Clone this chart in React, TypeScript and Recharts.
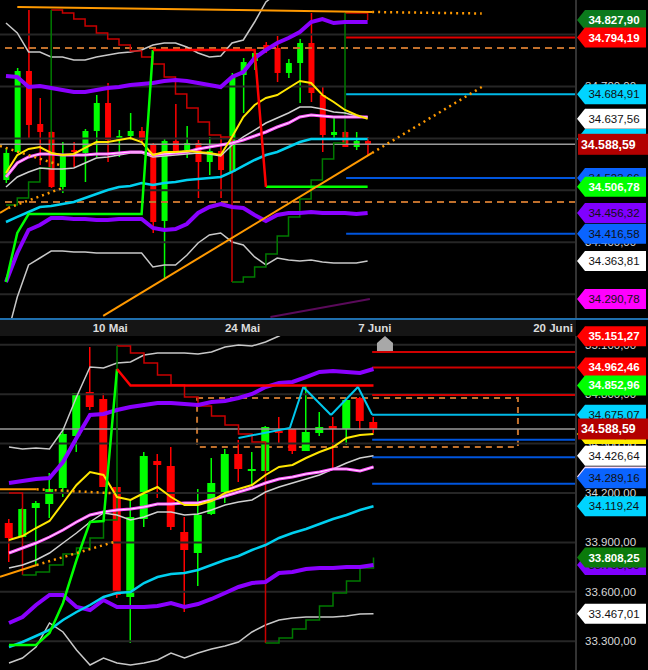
import React from 'react';
import {
  ComposedChart,
  Bar,
  Line,
  XAxis,
  YAxis,
  ReferenceLine,
  ReferenceArea,
  ReferenceDot,
} from 'recharts';

// ---------- upper panel (intraday) ----------
const topOpen = [34519.9, 34573.8, 34729.7, 34627.7, 34612.3, 34506.4, 34577.6, 34571.9, 34614.2, 34668.1, 34596.9, 34604.6, 34614.2, 34589.2, 34441.0, 34595.0, 34577.6, 34591.1, 34554.5, 34575.7, 34535.3, 34722.0, 34749.0, 34779.8, 34774.0, 34725.9, 34745.1, 34783.6, 34683.5, 34606.5, 34612.3, 34583.4, 34595.0];
const topHigh = [34581.5, 34735.5, 34847.2, 34677.7, 34614.0, 34593.0, 34593.0, 34618.1, 34683.5, 34706.6, 34616.1, 34648.9, 34621.9, 34591.1, 34600.7, 34666.2, 34623.8, 34596.9, 34602.7, 34602.7, 34725.9, 34754.7, 34766.0, 34785.5, 34797.1, 34752.8, 34791.3, 34841.4, 34700.8, 34639.2, 34614.0, 34612.3, 34602.7];
const topLow = [34514.1, 34571.9, 34600.7, 34548.8, 34504.5, 34494.9, 34544.9, 34516.0, 34564.2, 34554.5, 34564.2, 34596.9, 34591.1, 34417.9, 34331.2, 34571.9, 34562.2, 34485.2, 34529.5, 34485.2, 34535.3, 34648.9, 34731.7, 34764.4, 34708.5, 34716.2, 34668.1, 34670.0, 34573.8, 34596.9, 34583.4, 34577.6, 34568.0];
const topClose = [34571.9, 34729.7, 34625.8, 34612.3, 34506.4, 34568.0, 34573.8, 34614.2, 34668.1, 34596.9, 34604.6, 34614.2, 34596.9, 34439.0, 34595.0, 34573.8, 34591.1, 34554.5, 34575.7, 34539.1, 34718.2, 34747.0, 34764.4, 34770.1, 34725.9, 34745.1, 34783.6, 34687.4, 34606.5, 34612.3, 34583.4, 34595.0, 34588.59];

const topYellow = [34533.4, 34568.0, 34579.6, 34583.4, 34571.9, 34568.0, 34570.0, 34581.5, 34593.0, 34593.0, 34596.9, 34600.7, 34593.0, 34568.0, 34573.8, 34573.8, 34575.7, 34573.8, 34571.9, 34568.0, 34602.7, 34641.2, 34664.3, 34677.7, 34683.5, 34697.0, 34710.5, 34706.6, 34683.5, 34670.0, 34654.7, 34645.0, 34637.56];
const topPink = [34525.7, 34552.6, 34564.2, 34570.0, 34570.0, 34568.0, 34568.0, 34568.0, 34570.0, 34570.0, 34571.9, 34573.8, 34573.8, 34568.0, 34570.0, 34571.9, 34573.8, 34579.6, 34583.4, 34587.3, 34591.1, 34596.9, 34604.6, 34612.3, 34621.9, 34629.6, 34641.2, 34645.0, 34643.1, 34641.2, 34641.2, 34641.2, 34641.2];
const topMid = [34506.4, 34525.7, 34535.3, 34543.0, 34541.1, 34541.1, 34543.0, 34552.6, 34562.2, 34564.2, 34568.0, 34571.9, 34571.9, 34564.2, 34566.1, 34568.0, 34570.0, 34571.9, 34570.0, 34566.1, 34587.3, 34602.7, 34616.1, 34629.6, 34639.2, 34648.9, 34660.4, 34660.4, 34656.6, 34650.8, 34648.9, 34643.1, 34641.2];
const topCyan = [34439.0, 34448.7, 34458.3, 34467.9, 34469.9, 34473.7, 34477.6, 34485.2, 34492.9, 34500.7, 34506.4, 34508.4, 34514.1, 34510.3, 34514.1, 34516.0, 34519.9, 34521.8, 34523.7, 34525.7, 34535.3, 34546.9, 34558.4, 34568.0, 34573.8, 34583.4, 34593.0, 34598.8, 34598.8, 34598.8, 34598.8, 34598.8, 34598.8];
const topPurpleUp = [34720.1, 34718.2, 34698.9, 34700.8, 34697.0, 34693.1, 34689.3, 34689.3, 34693.1, 34697.0, 34698.9, 34702.8, 34704.7, 34706.6, 34710.5, 34712.4, 34710.5, 34706.6, 34702.8, 34698.9, 34718.2, 34727.8, 34754.7, 34770.1, 34783.6, 34793.3, 34804.8, 34824.0, 34829.8, 34822.1, 34824.0, 34824.0, 34824.0];
const topPurpleLow = [34323.6, 34379.4, 34423.7, 34433.3, 34446.8, 34446.8, 34444.8, 34444.8, 34442.9, 34442.9, 34444.8, 34444.8, 34444.8, 34427.5, 34423.7, 34425.6, 34435.2, 34456.4, 34467.9, 34473.7, 34467.9, 34466.0, 34452.5, 34441.0, 34452.5, 34456.4, 34456.4, 34458.3, 34456.4, 34456.4, 34456.4, 34454.4, 34456.32];
const topWhiteUp = [34822.1, 34802.9, 34766.3, 34766.3, 34756.7, 34756.7, 34750.9, 34750.9, 34756.7, 34760.5, 34764.4, 34766.3, 34770.1, 34779.8, 34783.6, 34783.6, 34775.9, 34764.4, 34756.7, 34758.6, 34783.6, 34789.4, 34824.0, 34862.6, 34879.9, 34891.4, 34904.9, 34904.9, 34899.1, 34895.3, 34895.3, 34895.3, 34895.3];
const topWhiteLow = [34211.9, 34294.7, 34356.3, 34369.7, 34383.2, 34383.2, 34381.3, 34381.3, 34379.4, 34379.4, 34379.4, 34379.4, 34379.4, 34352.4, 34356.3, 34356.3, 34375.0, 34398.6, 34414.0, 34417.9, 34400.6, 34394.8, 34371.7, 34356.3, 34369.7, 34365.9, 34364.0, 34365.9, 34362.1, 34360.1, 34360.1, 34360.1, 34363.81];
const topTrendUp = [34323.6, 34417.9, 34454.4, 34454.4, 34454.4, 34454.4, 34454.4, 34454.4, 34454.4, 34454.4, 34454.4, 34454.4, 34454.4, 34770.1, null, null, null, null, null, null, null, null, null, 34506.78, 34506.78, 34506.78, 34506.78, 34506.78, 34506.78, 34506.78, 34506.78, 34506.78, 34506.78];
const topTrendDown = [null, null, null, null, null, null, null, null, null, null, null, null, null, 34770.1, 34770.1, 34770.1, 34770.1, 34770.1, 34770.1, 34770.1, 34770.1, 34770.1, 34770.1, 34506.78, null, null, null, null, null, null, null, null, null];
const topStopRed = [null, null, null, null, 34847.2, 34841.4, 34829.8, 34816.4, 34802.9, 34791.3, 34779.8, 34768.2, 34756.7, 34743.2, 34718.2, 34685.4, 34658.5, 34631.5, 34606.5, 34602.7, 34323.6, null, null, null, null, null, null, null, null, null, 34841.4, 34841.4, 34827.9];
const topStopGreen = [34471.8, 34485.2, 34516.0, 34543.0, 34847.2, null, null, null, null, null, null, null, null, null, null, null, null, null, null, null, 34323.6, 34333.2, 34352.4, 34377.4, 34412.1, 34448.7, 34483.3, 34519.9, 34560.3, 34591.1, 34841.4, null, null];

const topGrid = [34300, 34400, 34500, 34600, 34700, 34800];
const topTags = [34827.9, 34794.19, 34684.91, 34637.56, 34598.83, 34523.66, 34506.78, 34456.32, 34416.58, 34363.81, 34290.78];
const topTagFill = ['#0b7a1c', '#ff0000', '#00d4ff', '#ffffff', '#00d4ff', '#0a64ff', '#00ff00', '#8000ff', '#0a64ff', '#ffffff', '#ff00ff'];
const topTagInk = ['#fff', '#fff', '#111', '#111', '#111', '#111', '#fff', '#111', '#111', '#111', '#111'];
const lastPrice = 34588.59;

// trend lines [x1, y1, x2, y2]
const topSolidTrends = [
  [1, 34852.9, 32.4, 34843.3],
  [8.6, 34258.1, 32.4, 34571.9],
  [-0.53, 34456.4, 0.2, 34466.0],
];
const topDottedTrends = [
  [32.4, 34843.3, 42.1, 34840.4],
  [32.4, 34571.9, 42.1, 34698.9],
  [-0.53, 34585.3, 5.0, 34546.9],
  [0.2, 34466.0, 5.0, 34504.5],
];
const topDashedLevels = [34774.0, 34477.6];
const topLevels = [34794.19, 34684.91, 34523.66, 34416.58];
const topLevelColors = ['#e00000', '#00b8e6', '#0055dd', '#0055dd'];
const topLevelStart = 30.1;
const topFaintLine = [23.4, 34256.2, 32.2, 34290.78];

// ---------- lower panel (daily) ----------
const botOpen = [34017.9, 33933.1, 34109.0, 34133.2, 34230.4, 34546.0, 34813.1, 34770.6, 34236.4, 33568.7, 34042.2, 34394.2, 34363.9, 33963.3, 33835.8, 34072.5, 34193.9, 34436.7, 34333.5, 34333.5, 34576.3, 34588.5, 34454.9, 34564.2, 34606.7, 34588.5, 34776.7, 34631.0];
const botHigh = [34042.2, 34109.0, 34151.4, 34321.4, 34594.6, 34807.0, 35086.2, 34807.0, 34236.4, 34157.5, 34448.9, 34436.7, 34479.2, 34054.3, 34224.3, 34412.5, 34467.1, 34521.7, 34448.9, 34606.7, 34661.3, 34588.5, 34849.5, 34691.7, 34661.3, 34776.7, 34782.7, 34661.3];
const botLow = [33781.2, 33927.0, 33763.0, 34048.3, 34175.7, 34448.9, 34703.8, 34236.4, 33562.7, 33289.5, 33993.6, 34169.7, 33975.4, 33477.7, 33635.5, 34066.5, 34139.3, 34266.8, 34254.6, 34333.5, 34503.5, 34436.7, 34454.9, 34546.0, 34351.8, 34491.4, 34582.4, 34564.2];
const botClose = [33926.9, 34102.9, 34139.3, 34224.3, 34558.1, 34807.0, 34722.0, 34236.4, 33580.9, 34054.3, 34424.6, 34370.0, 33993.6, 33854.0, 34066.5, 34260.7, 34436.7, 34345.7, 34345.7, 34600.6, 34564.2, 34454.9, 34570.3, 34600.6, 34588.5, 34764.5, 34637.0, 34588.59];

const botYellow = [33914.7, 33939.0, 33987.5, 34030.0, 34139.3, 34248.6, 34327.5, 34309.3, 34175.7, 34157.5, 34200.0, 34236.4, 34175.7, 34127.2, 34127.2, 34151.4, 34200.0, 34224.3, 34248.6, 34309.3, 34357.8, 34370.0, 34412.5, 34448.9, 34479.2, 34533.9, 34552.1, 34558.1];
const botPink = [33835.8, 33866.1, 33896.5, 33932.9, 33975.4, 34024.0, 34066.5, 34084.7, 34096.8, 34102.9, 34115.0, 34133.2, 34133.2, 34139.3, 34139.3, 34157.5, 34181.8, 34206.1, 34230.4, 34260.7, 34285.0, 34297.1, 34315.3, 34327.5, 34345.7, 34345.7, 34333.5, 34357.8];
const botMid = [33744.7, 33763.0, 33793.3, 33835.8, 33896.5, 33957.2, 34024.0, 34078.6, 34066.5, 34036.1, 34054.3, 34084.7, 34084.7, 34066.5, 34072.5, 34096.8, 34127.2, 34145.4, 34157.5, 34206.1, 34236.4, 34260.7, 34285.0, 34309.3, 34345.7, 34382.1, 34412.5, 34426.64];
const botCyan = [33265.2, 33295.6, 33332.0, 33368.4, 33429.1, 33477.7, 33520.2, 33568.7, 33593.0, 33599.1, 33653.7, 33690.1, 33708.3, 33714.4, 33732.6, 33763.0, 33793.3, 33817.6, 33854.0, 33884.4, 33926.8, 33957.2, 33981.5, 34011.8, 34042.2, 34066.5, 34096.8, 34119.24];
const botPurpleUp = [34260.7, 34272.8, 34285.0, 34291.1, 34388.2, 34533.9, 34673.5, 34679.5, 34703.8, 34722.0, 34734.2, 34746.3, 34746.3, 34740.2, 34734.2, 34752.4, 34758.4, 34776.7, 34800.9, 34843.4, 34867.7, 34873.8, 34904.1, 34934.5, 34940.5, 34934.5, 34928.4, 34952.7];
const botPurpleLow = [33410.9, 33447.3, 33520.2, 33580.9, 33580.9, 33508.0, 33489.8, 33550.5, 33508.0, 33508.0, 33508.0, 33514.1, 33532.3, 33508.0, 33526.2, 33556.6, 33593.0, 33629.4, 33653.7, 33659.8, 33714.4, 33720.5, 33738.7, 33744.7, 33744.7, 33750.8, 33750.8, 33763.0];
const botWhiteUp = [34479.2, 34467.1, 34473.2, 34467.1, 34582.4, 34782.7, 34964.8, 34958.8, 34989.1, 34995.2, 35037.7, 35049.8, 35049.8, 35049.8, 35043.7, 35055.9, 35086.2, 35098.4, 35092.3, 35116.6, 35153.0, 35201.6, 35238.0, 35250.1, 35250.1, 35238.0, 35225.8, 35238.0];
const botWhiteLow = [33168.1, 33198.4, 33265.2, 33410.9, 33356.3, 33247.0, 33156.0, 33198.4, 33168.1, 33156.0, 33168.1, 33186.3, 33228.8, 33198.4, 33228.8, 33253.1, 33271.3, 33295.6, 33356.3, 33398.8, 33429.1, 33441.2, 33447.3, 33447.3, 33447.3, 33453.4, 33465.5, 33467.01];
const botTrendUp = [33277.4, 33277.4, 33277.4, 33350.2, 33532.3, 33793.3, 34024.0, 34030.0, 34952.7, null, null, null, null, null, null, null, null, null, null, null, null, null, null, null, null, null, null, null];
const botTrendDown = [null, null, null, null, null, null, null, null, 34952.7, 34852.96, 34852.96, 34852.96, 34852.96, 34852.96, 34852.96, 34852.96, 34852.96, 34852.96, 34852.96, 34852.96, 34852.96, 34852.96, 34852.96, 34852.96, 34852.96, 34852.96, 34852.96, 34852.96];
const botStopRed = [34200.0, 33702.3, null, null, null, null, null, null, 35092.3, 35049.8, 34989.1, 34916.3, 34855.6, 34782.7, 34728.1, 34667.4, 34612.8, 34558.1, 34509.6, 33289.5, null, null, null, null, null, null, null, null];
const botStopGreen = [null, 33702.3, 33720.5, 33763.0, 33829.7, 33866.1, 33926.8, 34036.1, 35092.3, null, null, null, null, null, null, null, null, null, null, 33289.5, 33319.8, 33374.5, 33429.1, 33514.1, 33593.0, 33665.8, 33744.7, 33808.25];

const botGrid = [33300, 33600, 33900, 34200, 34500, 34800, 35100];
const botTags = [35151.27, 34962.46, 34852.96, 34675.07, 34558.1, 34426.64, 34300.33, 34289.16, 34119.24, 33763.0, 33808.25, 33467.01];
const botTagFill = ['#ff0000', '#ff0000', '#00ff00', '#00d4ff', '#ffee00', '#ffffff', '#ffe0ff', '#0a64ff', '#00d4ff', '#8000ff', '#0b7a0b', '#ffffff'];
const botTagInk = ['#fff', '#fff', '#fff', '#111', '#111', '#111', '#111', '#111', '#111', '#111', '#fff', '#111'];

const dateTicks = [7.5, 17.3, 27.1, 40.3];
const dateLabels = ['10 Mai', '24 Mai', '7 Juni', '20 Juni'];

const botSolidTrends = [
  [-0.667, 34222.5, 2.05, 34222.5],
  [-0.667, 33692.0, 2.05, 33763.0],
];
const botDottedTrends = [
  [2.05, 34222.5, 7.85, 34198.2],
  [2.05, 33763.0, 7.85, 33904.4],
];
const botBox = [13.93, 37.7, 34479.2, 34776.7];
const zigX = [17, 20.8, 21.8, 23.85, 25.85, 26.9];
const zigY = [34533.9, 34594.6, 34843.4, 34673.5, 34843.4, 34675.07];
const botLevels = [35055.9, 34962.46, 34794.19, 34675.07, 34523.66, 34416.58, 34256.0];
const botLevelColors = ['#d00000', '#d00000', '#d00000', '#00b8e6', '#0055dd', '#0055dd', '#0055dd'];
const botLevelStart = 26.9;
const botMarker = [27.85, 35104];

const TOP_X: [number, number] = [-0.53, 50.44];
const TOP_Y: [number, number] = [34254.2, 34866.4];
const BOT_X: [number, number] = [-0.667, 42.0];
const BOT_Y: [number, number] = [33125.6, 35153];

const FONT = '"Liberation Sans", Arial, sans-serif';
const ORANGE = '#ff9900';
const BROWN = '#c0702c';

const fmt = (v: number) => {
  const [a, b] = v.toFixed(2).split('.');
  return a.replace(/\B(?=(\d{3})+(?!\d))/g, '.') + ',' + b;
};

function buildRows(open: number[], high: number[], low: number[], close: number[], series: Record<string, (number | null)[]>) {
  return open.map((o, i) => {
    const row: any = { i, open: o, high: high[i], low: low[i], close: close[i], range: [low[i], high[i]] };
    Object.keys(series).forEach((k) => {
      row[k] = series[k][i];
    });
    return row;
  });
}

const topRows = buildRows(topOpen, topHigh, topLow, topClose, {
  yellow: topYellow, pink: topPink, mid: topMid, cyan: topCyan,
  pUp: topPurpleUp, pLow: topPurpleLow, wUp: topWhiteUp, wLow: topWhiteLow,
  stUp: topTrendUp, stDown: topTrendDown, stopRed: topStopRed, stopGreen: topStopGreen,
});
const botRows = buildRows(botOpen, botHigh, botLow, botClose, {
  yellow: botYellow, pink: botPink, mid: botMid, cyan: botCyan,
  pUp: botPurpleUp, pLow: botPurpleLow, wUp: botWhiteUp, wLow: botWhiteLow,
  stUp: botTrendUp, stDown: botTrendDown, stopRed: botStopRed, stopGreen: botStopGreen,
});

const candleShape = (bodyW: number) => (props: any) => {
  const { x, y, width, height, payload } = props;
  const { open, close, high, low } = payload;
  const top = Math.min(y, y + height);
  const h = Math.abs(height);
  const cx = x + width / 2;
  const span = high - low || 1;
  const toY = (v: number) => top + ((high - v) / span) * h;
  const color = close >= open ? '#00ff00' : '#ff0000';
  const b1 = toY(Math.max(open, close));
  const b2 = toY(Math.min(open, close));
  return (
    <g>
      <line x1={cx} x2={cx} y1={top} y2={top + h} stroke={color} strokeWidth={1.5} />
      <rect x={cx - bodyW / 2} y={b1} width={bodyW} height={Math.max(b2 - b1, 2)} fill={color} />
    </g>
  );
};

const priceTick = (tags: number[], fills: string[], inks: string[]) => (props: any) => {
  const { y, payload } = props;
  const v = payload.value;
  if (v === lastPrice) {
    return (
      <g>
        <rect x={578} y={y - 10.5} width={70} height={21} fill="#b30000" />
        <text x={581} y={y + 4.5} fill="#fff" fontSize={12.3} fontWeight="bold" fontFamily={FONT}>{fmt(v)}</text>
      </g>
    );
  }
  const k = tags.indexOf(v);
  if (k < 0) {
    return (
      <text x={585} y={y + 4} fill="#d8d8d8" fontSize={11.5} fontFamily={FONT}>{fmt(v)}</text>
    );
  }
  const ink = inks[k];
  return (
    <g>
      <polygon points={`577,${y} 585,${y - 10} 646,${y - 10} 646,${y + 10} 585,${y + 10}`} fill={fills[k]} />
      <text x={614} y={y + 4} textAnchor="middle" fill={ink} fontSize={11.5} fontWeight={ink === '#fff' ? 'bold' : 'normal'} fontFamily={FONT}>{fmt(v)}</text>
    </g>
  );
};

const dateTick = (props: any) => {
  const { x, index } = props;
  return (
    <text x={x} y={12} textAnchor="middle" fill="#dcdcdc" fontSize={11.5} fontWeight="bold" fontFamily={FONT}>{dateLabels[index]}</text>
  );
};

const houseShape = (props: any) => {
  const { cx, cy } = props;
  return <polygon points={`${cx - 8},${cy + 7} ${cx - 8},${cy - 1} ${cx},${cy - 8} ${cx + 8},${cy - 1} ${cx + 8},${cy + 7}`} fill="#a8a8a8" />;
};

function indicatorLines() {
  return [
    <Line key="wUp" dataKey="wUp" stroke="#c8c8c8" strokeWidth={1.5} dot={false} activeDot={false} isAnimationActive={false} />,
    <Line key="wLow" dataKey="wLow" stroke="#c8c8c8" strokeWidth={1.5} dot={false} activeDot={false} isAnimationActive={false} />,
    <Line key="stopRed" type="stepAfter" dataKey="stopRed" stroke="#c80000" strokeWidth={1.5} dot={false} activeDot={false} isAnimationActive={false} />,
    <Line key="stopGreen" type="stepAfter" dataKey="stopGreen" stroke="#007a00" strokeWidth={1.5} dot={false} activeDot={false} isAnimationActive={false} />,
    <Line key="pUp" dataKey="pUp" stroke="#8a00ff" strokeWidth={4} dot={false} activeDot={false} isAnimationActive={false} />,
    <Line key="pLow" dataKey="pLow" stroke="#8a00ff" strokeWidth={4} dot={false} activeDot={false} isAnimationActive={false} />,
    <Line key="cyan" dataKey="cyan" stroke="#00d0f0" strokeWidth={2.5} dot={false} activeDot={false} isAnimationActive={false} />,
    <Line key="mid" dataKey="mid" stroke="#d0d0d0" strokeWidth={1.5} dot={false} activeDot={false} isAnimationActive={false} />,
    <Line key="pink" dataKey="pink" stroke="#ff55ff" strokeWidth={3} dot={false} activeDot={false} isAnimationActive={false} />,
    <Line key="pinkCore" dataKey="pink" stroke="#ffe6ff" strokeWidth={1} dot={false} activeDot={false} isAnimationActive={false} />,
    <Line key="yellow" dataKey="yellow" stroke="#ffe600" strokeWidth={2} dot={false} activeDot={false} isAnimationActive={false} />,
    <Line key="stUp" dataKey="stUp" stroke="#00ff00" strokeWidth={2.5} dot={false} activeDot={false} isAnimationActive={false} />,
    <Line key="stDown" dataKey="stDown" stroke="#ff0000" strokeWidth={2.5} dot={false} activeDot={false} isAnimationActive={false} />,
  ];
}

function TopChart() {
  return (
    <ComposedChart width={648} height={318} data={topRows} margin={{ top: 0, right: 0, bottom: 0, left: 0 }}>
      <XAxis dataKey="i" type="number" domain={TOP_X} allowDataOverflow hide />
      <YAxis
        orientation="right"
        type="number"
        width={72}
        domain={TOP_Y}
        allowDataOverflow
        ticks={[...topGrid, ...topTags, lastPrice]}
        interval={0}
        tickLine={false}
        axisLine={{ stroke: '#333', strokeWidth: 2 }}
        tick={priceTick(topTags, topTagFill, topTagInk)}
      />
      {topGrid.map((g) => (
        <ReferenceLine key={'g' + g} y={g} stroke="#262626" strokeWidth={2} />
      ))}
      {topDashedLevels.map((v) => (
        <ReferenceLine key={'d' + v} y={v} stroke={BROWN} strokeWidth={2} strokeDasharray="7 5" />
      ))}
      <ReferenceLine y={lastPrice} stroke="#9a9a9a" strokeWidth={1.5} />
      {topLevels.map((v, k) => (
        <ReferenceLine key={'l' + v} segment={[{ x: topLevelStart, y: v }, { x: TOP_X[1], y: v }]} stroke={topLevelColors[k]} strokeWidth={2} />
      ))}
      <ReferenceLine segment={[{ x: topFaintLine[0], y: topFaintLine[1] }, { x: topFaintLine[2], y: topFaintLine[3] }]} stroke="#5a0a5a" strokeWidth={2} />
      <Bar dataKey="range" barSize={8} shape={candleShape(6)} isAnimationActive={false} />
      {indicatorLines()}
      {topSolidTrends.map((t, k) => (
        <ReferenceLine key={'ts' + k} segment={[{ x: t[0], y: t[1] }, { x: t[2], y: t[3] }]} stroke={ORANGE} strokeWidth={2} />
      ))}
      {topDottedTrends.map((t, k) => (
        <ReferenceLine key={'td' + k} segment={[{ x: t[0], y: t[1] }, { x: t[2], y: t[3] }]} stroke={ORANGE} strokeWidth={2.5} strokeDasharray="2 4" />
      ))}
    </ComposedChart>
  );
}

function BottomChart() {
  return (
    <ComposedChart width={648} height={350} data={botRows} margin={{ top: 0, right: 0, bottom: 0, left: 0 }}>
      <XAxis
        dataKey="i"
        type="number"
        orientation="top"
        height={16}
        domain={BOT_X}
        allowDataOverflow
        ticks={dateTicks}
        interval={0}
        axisLine={false}
        tickLine={false}
        tick={dateTick}
      />
      <YAxis
        orientation="right"
        type="number"
        width={72}
        domain={BOT_Y}
        allowDataOverflow
        ticks={[...botGrid, ...botTags, lastPrice]}
        interval={0}
        tickLine={false}
        axisLine={{ stroke: '#333', strokeWidth: 2 }}
        tick={priceTick(botTags, botTagFill, botTagInk)}
      />
      {botGrid.map((g) => (
        <ReferenceLine key={'g' + g} y={g} stroke="#262626" strokeWidth={2} />
      ))}
      <ReferenceLine y={lastPrice} stroke="#9a9a9a" strokeWidth={1.5} />
      {botLevels.map((v, k) => (
        <ReferenceLine key={'l' + v} segment={[{ x: botLevelStart, y: v }, { x: BOT_X[1], y: v }]} stroke={botLevelColors[k]} strokeWidth={2} />
      ))}
      <ReferenceArea x1={botBox[0]} x2={botBox[1]} y1={botBox[2]} y2={botBox[3]} fill="none" fillOpacity={0} stroke={BROWN} strokeWidth={2} strokeDasharray="6 5" />
      <Bar dataKey="range" barSize={9} shape={candleShape(8)} isAnimationActive={false} />
      {indicatorLines()}
      {zigX.slice(1).map((x, k) => (
        <ReferenceLine key={'z' + k} segment={[{ x: zigX[k], y: zigY[k] }, { x, y: zigY[k + 1] }]} stroke="#00c8ee" strokeWidth={2} />
      ))}
      {botSolidTrends.map((t, k) => (
        <ReferenceLine key={'bs' + k} segment={[{ x: t[0], y: t[1] }, { x: t[2], y: t[3] }]} stroke={ORANGE} strokeWidth={2} />
      ))}
      {botDottedTrends.map((t, k) => (
        <ReferenceLine key={'bd' + k} segment={[{ x: t[0], y: t[1] }, { x: t[2], y: t[3] }]} stroke={ORANGE} strokeWidth={2.5} strokeDasharray="2 4" />
      ))}
      <ReferenceDot x={botMarker[0]} y={botMarker[1]} r={8} shape={houseShape} />
    </ComposedChart>
  );
}

export default function App() {
  return (
    <div style={{ position: 'absolute', left: 0, top: 0, width: 648, height: 670, background: '#000', overflow: 'hidden' }}>
      <div style={{ position: 'absolute', left: 0, top: 320, width: 576, height: 16, background: '#151515' }} />
      <div style={{ position: 'absolute', left: 0, top: 0 }}>
        <TopChart />
      </div>
      <div style={{ position: 'absolute', left: 0, top: 318, width: 648, height: 2, background: '#1f6fae' }} />
      <div style={{ position: 'absolute', left: 0, top: 320 }}>
        <BottomChart />
      </div>
    </div>
  );
}
